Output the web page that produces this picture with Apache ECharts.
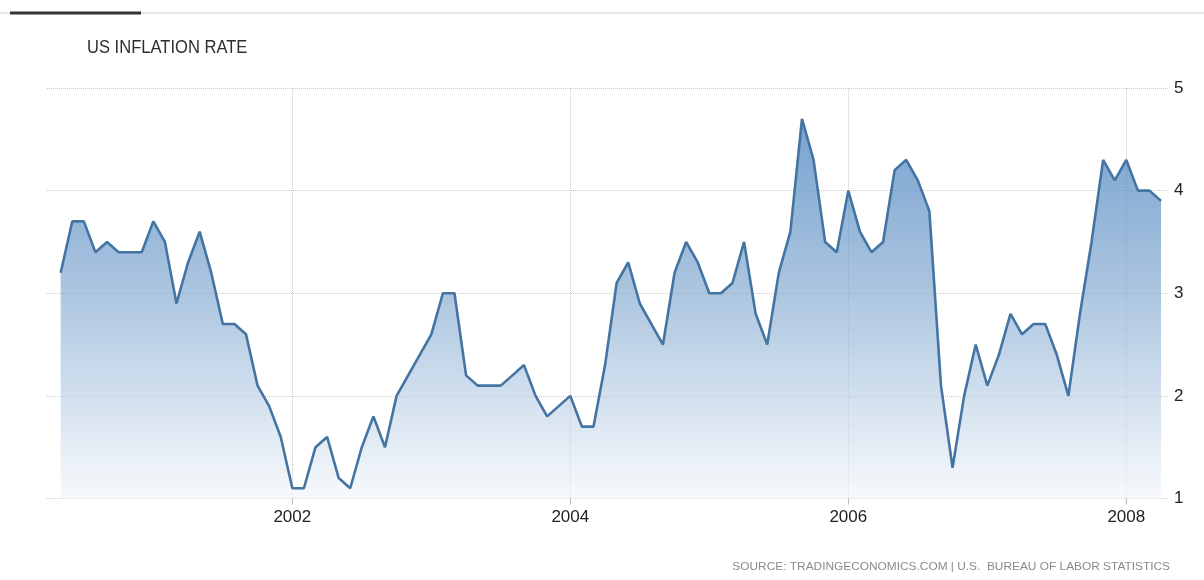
<!DOCTYPE html>
<html>
<head>
<meta charset="utf-8">
<script src="https://cdn.jsdelivr.net/npm/echarts@6/dist/echarts.min.js"></script>
<style>
html,body{margin:0;padding:0;background:#fff;}
#chart{width:1204px;height:580px;}
</style>
</head>
<body>
<div id="chart"></div>
<script>
// Monthly observations, May 2000 – Apr 2008
const months = [
  '2000-05','2000-06','2000-07','2000-08','2000-09','2000-10','2000-11','2000-12',
  '2001-01','2001-02','2001-03','2001-04','2001-05','2001-06','2001-07','2001-08','2001-09','2001-10','2001-11','2001-12',
  '2002-01','2002-02','2002-03','2002-04','2002-05','2002-06','2002-07','2002-08','2002-09','2002-10','2002-11','2002-12',
  '2003-01','2003-02','2003-03','2003-04','2003-05','2003-06','2003-07','2003-08','2003-09','2003-10','2003-11','2003-12',
  '2004-01','2004-02','2004-03','2004-04','2004-05','2004-06','2004-07','2004-08','2004-09','2004-10','2004-11','2004-12',
  '2005-01','2005-02','2005-03','2005-04','2005-05','2005-06','2005-07','2005-08','2005-09','2005-10','2005-11','2005-12',
  '2006-01','2006-02','2006-03','2006-04','2006-05','2006-06','2006-07','2006-08','2006-09','2006-10','2006-11','2006-12',
  '2007-01','2007-02','2007-03','2007-04','2007-05','2007-06','2007-07','2007-08','2007-09','2007-10','2007-11','2007-12',
  '2008-01','2008-02','2008-03','2008-04'
];
const inflation = [
  3.2,3.7,3.7,3.4,3.5,3.4,3.4,3.4,
  3.7,3.5,2.9,3.3,3.6,3.2,2.7,2.7,2.6,2.1,1.9,1.6,
  1.1,1.1,1.5,1.6,1.2,1.1,1.5,1.8,1.5,2.0,2.2,2.4,
  2.6,3.0,3.0,2.2,2.1,2.1,2.1,2.2,2.3,2.0,1.8,1.9,
  2.0,1.7,1.7,2.3,3.1,3.3,2.9,2.7,2.5,3.2,3.5,3.3,
  3.0,3.0,3.1,3.5,2.8,2.5,3.2,3.6,4.7,4.3,3.5,3.4,
  4.0,3.6,3.4,3.5,4.2,4.3,4.1,3.8,2.1,1.3,2.0,2.5,
  2.1,2.4,2.8,2.6,2.7,2.7,2.4,2.0,2.8,3.5,4.3,4.1,
  4.3,4.0,4.0,3.9
];
const yearTicks = [2002, 2004, 2006, 2008];
const yTicks = [1, 2, 3, 4, 5];
const titleText = 'US INFLATION RATE';
const sourceText = 'SOURCE: TRADINGECONOMICS.COM | U.S.  BUREAU OF LABOR STATISTICS';

function toYear(m) {
  const p = m.split('-');
  return Number(p[0]) + (Number(p[1]) - 1) / 12;
}
const seriesData = months.map((m, i) => [toYear(m), inflation[i]]);

const chart = echarts.init(document.getElementById('chart'), null, {renderer: 'canvas'});
const gridColor = '#c9c9c9';
chart.setOption({
  animation: false,
  backgroundColor: '#ffffff',
  grid: {left: 47, right: 36, top: 88, bottom: 81.5, containLabel: false},
  xAxis: {
    type: 'value',
    min: 2000.235,
    max: 2008.30,
    axisLine: {show: false},
    axisTick: {show: true, length: 6, customValues: yearTicks, lineStyle: {color: '#bbbbbb'}},
    axisLabel: {
      customValues: yearTicks,
      margin: 10,
      color: '#222',
      fontSize: 17,
      fontFamily: 'Liberation Sans, Arial, sans-serif',
      formatter: v => String(Math.round(v))
    },
    splitLine: {show: true, customValues: yearTicks, lineStyle: {color: gridColor, type: 'dotted', width: 1}}
  },
  yAxis: {
    type: 'value',
    position: 'right',
    min: yTicks[0],
    max: yTicks[yTicks.length - 1],
    interval: 1,
    axisLine: {show: false},
    axisTick: {show: false},
    axisLabel: {
      margin: 6,
      color: '#222',
      fontSize: 17,
      fontFamily: 'Liberation Sans, Arial, sans-serif',
      verticalAlign: 'middle',
      padding: [4, 0, 0, 0]
    },
    splitLine: {show: true, lineStyle: {color: gridColor, type: 'dotted', width: 1}}
  },
  series: [{
    type: 'line',
    data: seriesData,
    symbol: 'none',
    smooth: false,
    lineStyle: {color: '#4474a2', width: 2.6},
    itemStyle: {color: '#4474a2'},
    areaStyle: {
      origin: 'start',
      color: new echarts.graphic.LinearGradient(0, 0, 0, 1, [
        {offset: 0, color: 'rgb(60,122,186)'},
        {offset: 0.45, color: 'rgb(135,172,210)'},
        {offset: 1, color: 'rgb(244,247,251)'}
      ])
    }
  }],
  graphic: [
    {type: 'rect', shape: {x: 0, y: 12, width: 1204, height: 2}, style: {fill: '#e6e6e6'}, silent: true},
    {type: 'rect', shape: {x: 10, y: 11.5, width: 131, height: 3}, style: {fill: '#333333'}, silent: true},
    {type: 'text', x: 87, y: 48.5, scaleX: 0.92, originX: 0, style: {
      text: titleText, fill: '#2e2e2e', fontSize: 18,
      fontFamily: 'Liberation Sans, Arial, sans-serif',
      verticalAlign: 'middle', align: 'left'
    }, silent: true},
    {type: 'text', x: 1170, y: 567, scaleX: 1.08, originX: 0, style: {
      text: sourceText, fill: '#8a8a8a', fontSize: 11,
      fontFamily: 'Liberation Sans, Arial, sans-serif',
      verticalAlign: 'middle', align: 'right'
    }, silent: true}
  ]
});
</script>
</body>
</html>
